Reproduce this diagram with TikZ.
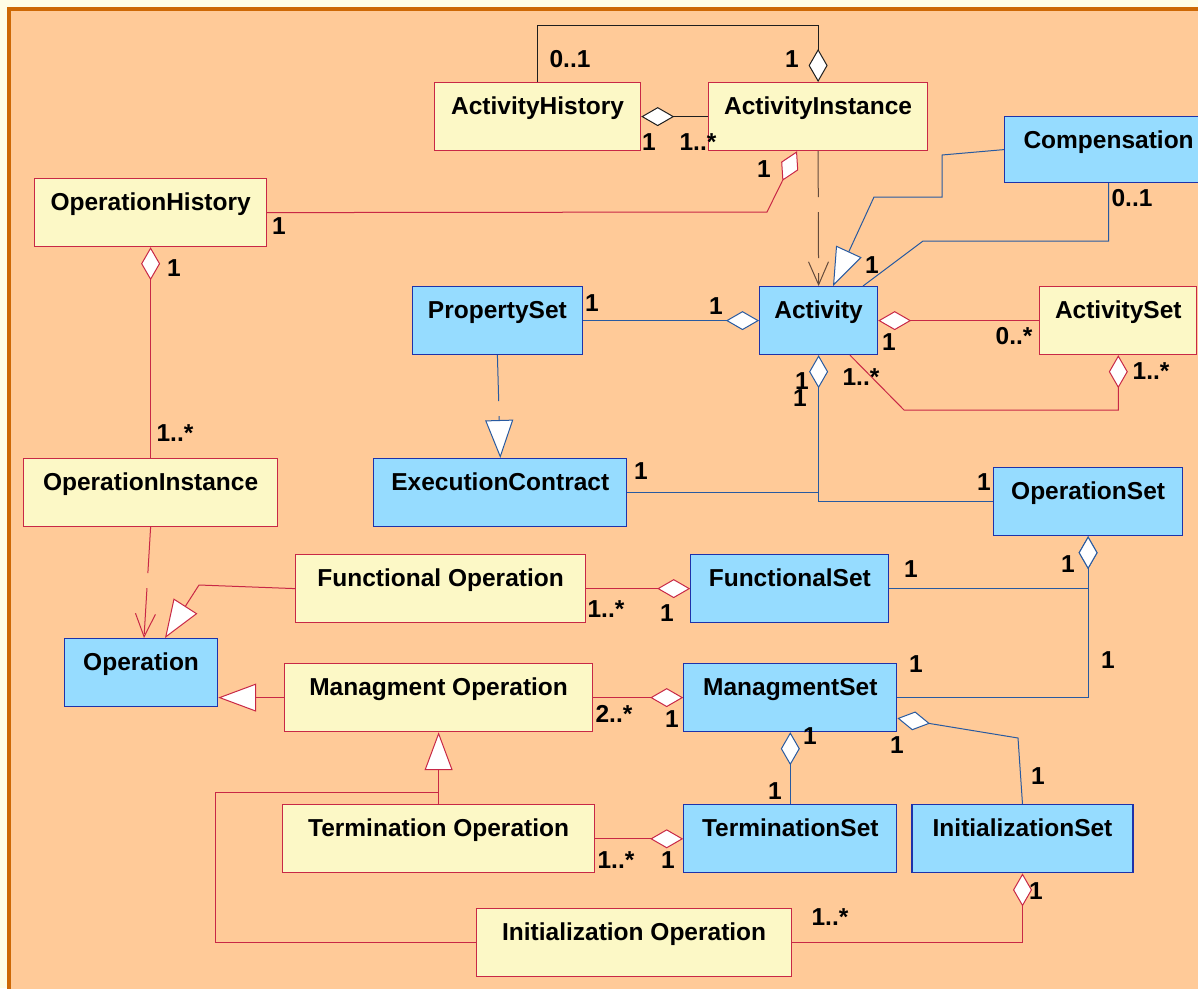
\documentclass[tikz,border=0pt]{standalone}
\usepackage{fontspec}
\setmainfont{Liberation Sans}
\usepackage{xcolor}
\usetikzlibrary{arrows.meta, positioning}

\definecolor{pale}{RGB}{255,253,230}
\definecolor{frame}{RGB}{205,104,5}
\definecolor{peach}{RGB}{255,202,152}
\definecolor{yfill}{RGB}{252,248,198}
\definecolor{ybord}{RGB}{200,40,70}
\definecolor{bfill}{RGB}{150,220,255}
\definecolor{bbord}{RGB}{30,50,170}
\definecolor{rcol}{RGB}{200,40,70}
\definecolor{bcol}{RGB}{40,90,160}
\definecolor{kcol}{RGB}{30,30,30}
\definecolor{dcol}{RGB}{100,75,60}

\tikzset{
  dia/.tip={Diamond[length=33pt,width=19pt,fill=white]},
  gen/.tip={Triangle[length=38pt,width=28pt,fill=white]},
  dep/.tip={Straight Barb[length=23pt,width=20pt]},
  box/.style={draw, rectangle, inner sep=0pt, text height=32pt, text depth=36pt,
    line width=1.2pt, font=\bfseries\fontsize{24.5}{28}\selectfont},
  ybox/.style={box, draw=ybord, fill=yfill},
  bbox/.style={box, draw=bbord, fill=bfill},
  mult/.style={inner sep=0pt, font=\bfseries\fontsize{24.5}{28}\selectfont},
  rline/.style={draw=rcol, line width=1pt},
  bline/.style={draw=bcol, line width=1pt},
  kline/.style={draw=kcol, line width=1pt},
  dline/.style={draw=dcol, line width=1pt},
  longdash/.style={dash pattern=on 46pt off 15pt}
}

\begin{document}
\begin{tikzpicture}[x=1pt, y=-1pt]
    \useasboundingbox (0,0) rectangle (1198,988);
    \clip (0,0) rectangle (1198,988);
    \fill[pale] (0,0) rectangle (1198,988);
    \fill[peach] (9,9) rectangle (1220,1000);
    \draw[frame, line width=4pt] (9,1000) -- (9,9) -- (1220,9);

    % classes
    \node[ybox, minimum width=206pt, anchor=north west] (ah) at (434,82) {ActivityHistory};
    \node[ybox, minimum width=219pt, anchor=north west] (ai) at (708,82) {ActivityInstance};
    \node[ybox, minimum width=232pt, anchor=north west] (oh) at (34,178) {OperationHistory};
    \node[bbox, minimum width=208pt, text depth=34pt, anchor=north west] (comp) at (1004,116) {Compensation};
    \node[bbox, minimum width=118pt, anchor=north west] (act) at (759,286) {Activity};
    \node[bbox, minimum width=170pt] (ps) [left=176pt of act] {PropertySet};
    \node[ybox, minimum width=157pt] (as) [right=161pt of act] {ActivitySet};
    \node[ybox, minimum width=254pt, anchor=north west] (oi) at (23,458) {OperationInstance};
    \node[bbox, minimum width=253pt] (ec) [right=95pt of oi] {ExecutionContract};
    \node[bbox, minimum width=189pt, anchor=north west] (os) at (993,467) {OperationSet};
    \node[ybox, minimum width=290pt, anchor=north west] (fo) at (295,554) {Functional Operation};
    \node[bbox, minimum width=198pt] (fs) [right=104pt of fo] {FunctionalSet};
    \node[bbox, minimum width=153pt, anchor=north west] (op) at (64,638) {Operation};
    \node[ybox, minimum width=308pt, anchor=north west] (mo) at (284,663) {Managment Operation};
    \node[bbox, minimum width=213pt] (ms) [right=90pt of mo] {ManagmentSet};
    \node[ybox, minimum width=312pt] (to) [below=72pt of mo] {Termination Operation};
    \node[bbox, minimum width=213pt] (ts) [below=72pt of ms] {TerminationSet};
    \node[bbox, minimum width=221pt] (is) [right=14pt of ts] {InitializationSet};
    \node[ybox, minimum width=315pt, anchor=north west] (io) at (476,908) {Initialization Operation};
    \coordinate (genjoin) at (438,792);

    % connectors
    \draw[kline, -dia] (ah.north) -- ++(0,-57) -| (ai.north);
    \draw[kline, -dia] (ai.west) -- (ah.east);
    \draw[rline, -dia] (oh.east) -- (767,212) -- ([xshift=89pt]ai.south west);
    \draw[dline, longdash, -dep] (ai.south) -- (act.north);
    \draw[bline, -gen] (comp.west) -- (942,155) |- (874,197) -- ([xshift=74pt]act.north west);
    \draw[bline] (comp.south) |- (923,241) -- ([xshift=104pt]act.north west);
    \draw[bline, -dia] (ps.east) -- (act.west);
    \draw[rline, dia-] (act.east) -- (as.west);
    \draw[rline, dia-] (as.south) |- (904,410) -- ([xshift=91pt]act.south west);
    \draw[bline, longdash, -gen] (ps.south) -- (ec.north);
    \draw[bline] (ec.east) -- (ec.east -| act.south);
    \draw[bline, dia-] (act.south) |- (os.west);
    \draw[rline, dia-] (oh.south) -- (oi.north);
    \draw[rline, longdash, -dep] (oi.south) -- ([xshift=80pt]op.north west);
    \draw[rline, -gen] (fo.west) -- (199,585) -- ([xshift=101pt]op.north west);
    \draw[rline, -dia] (fo.east) -- (fs.west);
    \draw[bline, dia-] (os.south) |- (fs.east);
    \draw[bline, dia-] (os.south) |- (ms.east);
    \draw[rline, -dia] (mo.east) -- (ms.west);
    \draw[rline, -gen] (mo.west) -- (mo.west -| op.east);
    \draw[rline, -gen] (to.north) -- (mo.south);
    \draw[rline] (io.west) -- ++(-261,0) |- (genjoin);
    \draw[rline, -dia] (to.east) -- (ts.west);
    \draw[bline, dia-] (ms.south) -- (ts.north);
    \draw[bline, dia-] ([yshift=14pt]ms.south east) -- (1018,738) -- (is.north);
    \draw[rline, dia-] (is.south) |- (io.east);

    % multiplicities
    \node[mult] (m1) at (570,59) {0..1};
    \node[mult] (m2) at (792,59) {1};
    \node[mult] (m3) at (649,142) {1};
    \node[mult] (m4) at (698,142) {1..*};
    \node[mult] (m5) at (764,169) {1};
    \node[mult] (m6) at (279,226) {1};
    \node[mult] (m7) at (174,268) {1};
    \node[mult] (m8) at (175,433) {1..*};
    \node[mult] (m9) at (1132,198) {0..1};
    \node[mult] (m10) at (872,265) {1};
    \node[mult] (m11) at (592,303) {1};
    \node[mult] (m12) at (716,306) {1};
    \node[mult] (m13) at (889,342) {1};
    \node[mult] (m14) at (1014,336) {0..*};
    \node[mult] (m15) at (1151,371) {1..*};
    \node[mult] (m16) at (861,377) {1..*};
    \node[mult] (m17) at (802,381) {1};
    \node[mult] (m18) at (800,398) {1};
    \node[mult] (m19) at (641,471) {1};
    \node[mult] (m20) at (984,482) {1};
    \node[mult] (m21) at (1068,564) {1};
    \node[mult] (m22) at (911,569) {1};
    \node[mult] (m23) at (606,609) {1..*};
    \node[mult] (m24) at (667,613) {1};
    \node[mult] (m25) at (916,664) {1};
    \node[mult] (m26) at (1108,660) {1};
    \node[mult] (m27) at (614,714) {2..*};
    \node[mult] (m28) at (672,719) {1};
    \node[mult] (m29) at (810,736) {1};
    \node[mult] (m30) at (897,745) {1};
    \node[mult] (m31) at (775,791) {1};
    \node[mult] (m32) at (1038,776) {1};
    \node[mult] (m33) at (616,860) {1..*};
    \node[mult] (m34) at (668,860) {1};
    \node[mult] (m35) at (830,917) {1..*};
    \node[mult] (m36) at (1036,891) {1};
\end{tikzpicture}
\end{document}
